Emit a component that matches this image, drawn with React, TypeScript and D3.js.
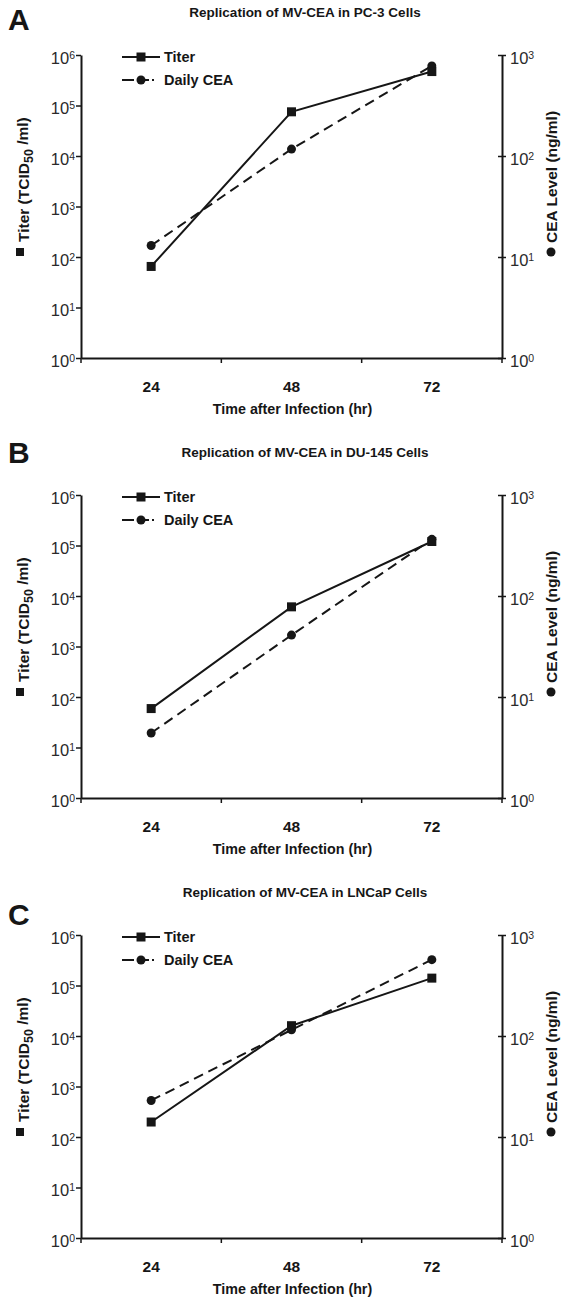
import React, { useEffect, useRef } from 'react';
import * as d3 from 'd3';

// time points (hours after infection)
const hours = ['24', '48', '72'];

// Panel A - PC-3
const titerPC3 = [65, 75000, 470000];
const ceaPC3 = [13, 117, 780];
// Panel B - DU-145
const titerDU145 = [59, 6100, 120000];
const ceaDU145 = [4.4, 41, 364];
// Panel C - LNCaP
const titerLNCaP = [198, 16000, 140000];
const ceaLNCaP = [23, 115, 570];

const panelLetters = ['A', 'B', 'C'];
const panelTitles = [
    'Replication of MV-CEA in PC-3 Cells',
    'Replication of MV-CEA in DU-145 Cells',
    'Replication of MV-CEA in LNCaP Cells',
];
const titerTicks = [1, 10, 100, 1e3, 1e4, 1e5, 1e6];
const ceaTicks = [1, 10, 100, 1000];

const panels = [
    { letter: panelLetters[0], title: panelTitles[0], titer: titerPC3, cea: ceaPC3, letterY: -25 },
    { letter: panelLetters[1], title: panelTitles[1], titer: titerDU145, cea: ceaDU145, letterY: -32 },
    { letter: panelLetters[2], title: panelTitles[2], titer: titerLNCaP, cea: ceaLNCaP, letterY: -10 },
];

const FONT = '"Liberation Sans", Arial, Helvetica, sans-serif';
const INK = '#161616';

export default function App() {
    const ref = useRef<SVGSVGElement>(null);

    useEffect(() => {
        const svg = d3.select(ref.current);
        svg.selectAll('*').remove();

        const left = 81, right = 502;
        const plotH = 303;

        panels.forEach((p, i) => {
            const top = 55 + i * 440;
            const bottom = top + plotH;
            const g = svg.append('g');

            const x = d3.scaleBand().domain(hours).range([left, right]);
            const cx = (h: string) => (x(h) as number) + x.bandwidth() / 2;
            const yL = d3.scaleLog().domain([1, 1e6]).range([bottom, top]);
            const yR = d3.scaleLog().domain([1, 1e3]).range([bottom, top]);

            // panel letter + title
            g.append('text')
                .attr('x', 8).attr('y', top + p.letterY)
                .attr('font-family', FONT).attr('font-weight', 'bold').attr('font-size', 30)
                .attr('fill', INK).text(p.letter);
            g.append('text')
                .attr('x', 305).attr('y', top - 38)
                .attr('text-anchor', 'middle')
                .attr('font-family', FONT).attr('font-weight', 'bold').attr('font-size', 13.5)
                .attr('fill', INK).text(p.title);

            // left axis
            const la = g.append('g')
                .attr('transform', `translate(${left},0)`)
                .call(d3.axisLeft(yL).tickValues(titerTicks).tickSize(5).tickSizeOuter(0));
            // right axis
            const ra = g.append('g')
                .attr('transform', `translate(${right},0)`)
                .call(d3.axisRight(yR).tickValues(ceaTicks).tickSize(4).tickSizeOuter(0));
            ra.selectAll('.tick line').attr('x1', -4);

            [la, ra].forEach((ax) => {
                ax.select('.domain').attr('stroke', INK).attr('stroke-width', 2);
                ax.selectAll('.tick line').attr('stroke', INK).attr('stroke-width', 1.5);
                ax.selectAll<SVGTextElement, number>('.tick text').each(function (d) {
                    const t = d3.select(this);
                    t.text(null)
                        .attr('font-family', FONT).attr('font-size', 16.5).attr('fill', '#2a2a2a');
                    t.append('tspan').text('10');
                    t.append('tspan').attr('dy', '-0.5em').attr('font-size', 10.5).text(Math.round(Math.log10(d)));
                });
            });
            la.selectAll('.tick text').attr('x', -6).attr('dy', '0.5em');
            ra.selectAll('.tick text').attr('x', 8).attr('dy', '0.5em');

            // x axis
            const xa = g.append('g')
                .attr('transform', `translate(0,${bottom})`)
                .call(d3.axisBottom(x).tickSize(0).tickSizeOuter(0));
            xa.select('.domain').attr('stroke', INK).attr('stroke-width', 2);
            xa.selectAll('.tick text')
                .attr('y', 23)
                .attr('font-family', FONT).attr('font-weight', 'bold').attr('font-size', 15.5)
                .attr('fill', INK);
            const bounds = hours.map((h) => x(h) as number).concat([right]);
            xa.selectAll('.bound')
                .data(bounds)
                .enter()
                .append('line')
                .attr('x1', (d) => d).attr('x2', (d) => d)
                .attr('y1', 0).attr('y2', 5)
                .attr('stroke', INK).attr('stroke-width', 1.5);

            g.append('text')
                .attr('x', (left + right) / 2 + 1).attr('y', bottom + 56)
                .attr('text-anchor', 'middle')
                .attr('font-family', FONT).attr('font-weight', 'bold').attr('font-size', 14.3)
                .attr('fill', INK).text('Time after Infection (hr)');

            // left y label
            g.append('rect')
                .attr('x', 16).attr('y', top + 193)
                .attr('width', 8).attr('height', 8).attr('fill', INK);
            const lt = g.append('text')
                .attr('transform', `translate(29,${top + 187}) rotate(-90)`)
                .attr('font-family', FONT).attr('font-weight', 'bold').attr('font-size', 15.5)
                .attr('fill', INK);
            lt.append('tspan').text('Titer (TCID');
            lt.append('tspan').attr('dy', '0.3em').attr('font-size', 12.5).text('50');
            lt.append('tspan').attr('dy', '-0.3em').text(' /ml)');

            // right y label
            g.append('circle')
                .attr('cx', 551).attr('cy', top + 197).attr('r', 4.5).attr('fill', INK);
            g.append('text')
                .attr('transform', `translate(557,${top + 188}) rotate(-90)`)
                .attr('font-family', FONT).attr('font-weight', 'bold').attr('font-size', 15.5)
                .attr('fill', INK).text('CEA Level (ng/ml)');

            // series
            const lineL = d3.line<number>().x((d, j) => cx(hours[j])).y((d) => yL(d));
            const lineR = d3.line<number>().x((d, j) => cx(hours[j])).y((d) => yR(d));

            g.append('path')
                .attr('d', lineR(p.cea))
                .attr('fill', 'none').attr('stroke', INK).attr('stroke-width', 2)
                .attr('stroke-dasharray', '10,6');
            g.append('path')
                .attr('d', lineL(p.titer))
                .attr('fill', 'none').attr('stroke', INK).attr('stroke-width', 2);

            g.selectAll('.cea')
                .data(p.cea)
                .enter()
                .append('circle')
                .attr('cx', (d, j) => cx(hours[j]))
                .attr('cy', (d) => yR(d))
                .attr('r', 4.5)
                .attr('fill', INK);
            g.selectAll('.titer')
                .data(p.titer)
                .enter()
                .append('rect')
                .attr('x', (d, j) => cx(hours[j]) - 4.5)
                .attr('y', (d) => yL(d) - 4.5)
                .attr('width', 9).attr('height', 9)
                .attr('fill', INK);

            // legend
            const lg = g.append('g').attr('transform', `translate(122,${top})`);
            lg.append('line').attr('x1', 0).attr('x2', 38).attr('y1', 2).attr('y2', 2)
                .attr('stroke', INK).attr('stroke-width', 2);
            lg.append('rect').attr('x', 14.5).attr('y', -2.5).attr('width', 9).attr('height', 9).attr('fill', INK);
            lg.append('text').attr('x', 42).attr('y', 2).attr('dy', '0.36em')
                .attr('font-family', FONT).attr('font-weight', 'bold').attr('font-size', 14.5)
                .attr('fill', INK).text('Titer');
            lg.append('line').attr('x1', 0).attr('x2', 32).attr('y1', 25).attr('y2', 25)
                .attr('stroke', INK).attr('stroke-width', 2).attr('stroke-dasharray', '12,3');
            lg.append('circle').attr('cx', 19).attr('cy', 25).attr('r', 4.5).attr('fill', INK);
            lg.append('text').attr('x', 42).attr('y', 25).attr('dy', '0.36em')
                .attr('font-family', FONT).attr('font-weight', 'bold').attr('font-size', 14.5)
                .attr('fill', INK).text('Daily CEA');
        });
    }, []);

    return (
        <svg ref={ref} width={563} height={1300}
            style={{ position: 'absolute', left: 0, top: 0, background: '#fff' }} />
    );
}
